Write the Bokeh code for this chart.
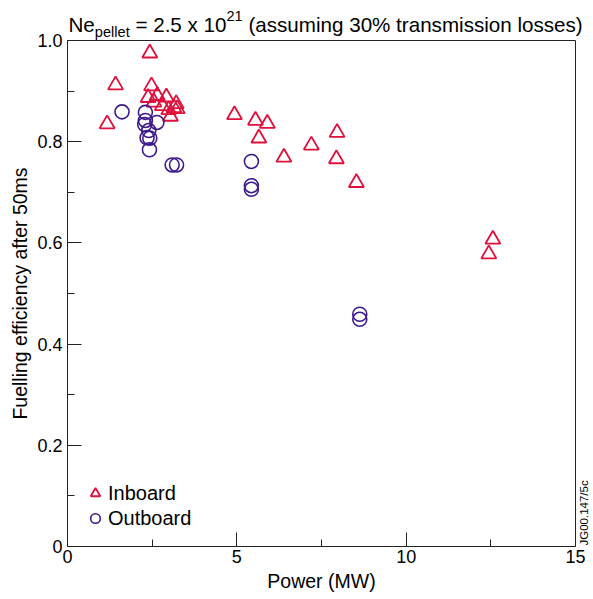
import math
from bokeh.plotting import figure
from bokeh.models import (FixedTicker, Label, Legend, LegendItem, ColumnDataSource,
                          LinearAxis, BoxAnnotation)
from bokeh.embed import file_html
from bokeh.resources import INLINE

# ---- data ----
inboard_x = [1.17, 1.42, 2.43, 2.48, 2.38, 2.65, 2.92, 2.55, 2.80, 3.21, 3.24, 2.99, 3.14, 3.04,
             4.93, 5.55, 5.90, 5.65, 7.96, 7.20, 6.39, 7.94, 8.53, 12.56, 12.44]
inboard_y = [0.835, 0.912, 0.975, 0.910, 0.887, 0.891, 0.888, 0.878, 0.871, 0.875, 0.865, 0.863, 0.867, 0.850,
             0.853, 0.842, 0.836, 0.807, 0.818, 0.793, 0.769, 0.766, 0.719, 0.607, 0.578]

outboard_x = [1.61, 2.30, 2.30, 2.28, 2.40, 2.35, 2.43, 2.42, 2.64, 3.09, 3.22, 5.43, 5.43, 5.43, 8.63, 8.63]
outboard_y = [0.859, 0.858, 0.842, 0.834, 0.822, 0.808, 0.807, 0.784, 0.838, 0.754, 0.754, 0.761, 0.713, 0.706,
              0.459, 0.449]

x_ticks = [0, 5, 10, 15]
x_minor = [2.5, 7.5, 12.5]
y_ticks = [0, 0.2, 0.4, 0.6, 0.8, 1.0]
y_tick_labels = ["0", "0.2", "0.4", "0.6", "0.8", "1.0"]
y_minor = [0.1, 0.3, 0.5, 0.7, 0.9]

series_names = ["Inboard", "Outboard"]
x_label = "Power (MW)"
y_label = "Fuelling efficiency after 50ms"
title_parts = [("Ne", "main"), ("pellet", "sub"), (" = 2.5 x 10", "main"), ("21", "sup"),
               (" (assuming 30% transmission losses)", "main")]
tag_text = "JG00.147/5c"

RED = "#e0103c"
PURPLE = "#3d1a8c"
INK = "#222222"
FONT = "Liberation Sans"

W, H = 593, 599
# plot box (page pixels): left 67, right 575, top 40, bottom 546
BL, BR, BT, BB = 67, 575, 40, 546
XMIN, XMAX, YMIN, YMAX = 0, 15, 0, 1
sx = (BR - BL) / (XMAX - XMIN)
sy = (BB - BT) / (YMAX - YMIN)
x_range = (XMIN - BL / sx, XMAX + (W - BR) / sx)
y_range = (YMIN - (H - BB) / sy, YMAX + BT / sy)

p = figure(width=W, height=H, x_range=x_range, y_range=y_range,
           output_backend="svg", toolbar_location=None,
           x_axis_location=None, y_axis_location=None,
           min_border=0, min_border_left=0, min_border_right=0,
           min_border_top=0, min_border_bottom=0)
p.background_fill_color = "white"
p.border_fill_color = "white"
p.outline_line_color = None
p.xgrid.visible = False
p.ygrid.visible = False

xaxis = LinearAxis(fixed_location=YMIN, bounds=(XMIN, XMAX),
                   ticker=FixedTicker(ticks=x_ticks, minor_ticks=x_minor))
yaxis = LinearAxis(fixed_location=XMIN, bounds=(YMIN, YMAX),
                   ticker=FixedTicker(ticks=y_ticks, minor_ticks=y_minor))
yaxis.major_label_overrides = {t: l for t, l in zip(y_ticks, y_tick_labels)}

for ax in (xaxis, yaxis):
    ax.axis_line_color = INK
    ax.major_tick_line_color = INK
    ax.minor_tick_line_color = INK
    ax.major_tick_in = 14
    ax.major_tick_out = 0
    ax.minor_tick_in = 7
    ax.minor_tick_out = 0
    ax.major_label_text_font = FONT
    ax.major_label_text_font_size = "18px"
    ax.major_label_text_color = "black"
    ax.axis_label_text_font = FONT
    ax.axis_label_text_font_size = "19.5px"
    ax.axis_label_text_font_style = "normal"
    ax.axis_label_text_color = "black"

xaxis.axis_label = x_label
yaxis.axis_label = y_label
xaxis.major_label_standoff = 3
yaxis.major_label_standoff = 5
xaxis.axis_label_standoff = 4
yaxis.axis_label_standoff = 3
p.add_layout(xaxis, "below")
p.add_layout(yaxis, "left")

# plot box
p.add_layout(BoxAnnotation(left=XMIN, right=XMAX, bottom=YMIN, top=YMAX,
                           fill_alpha=0, fill_color=None, line_color=INK, line_width=1,
                           line_alpha=1))

src_in = ColumnDataSource(dict(x=inboard_x, y=inboard_y))
src_out = ColumnDataSource(dict(x=outboard_x, y=outboard_y))
r_in = p.scatter("x", "y", source=src_in, marker="triangle", size=15,
                 fill_color=None, line_color=RED, line_width=1.8)
r_out = p.scatter("x", "y", source=src_out, marker="circle", size=14,
                  fill_color=None, line_color=PURPLE, line_width=1.6)

legend = Legend(items=[LegendItem(label=series_names[0], renderers=[r_in]),
                       LegendItem(label=series_names[1], renderers=[r_out])],
                location=(83, H - 530), glyph_width=24, glyph_height=24, spacing=1,
                padding=0, margin=0, label_standoff=1,
                label_text_font=FONT, label_text_font_size="20px", label_text_color="black",
                border_line_color=None, background_fill_alpha=0)
p.add_layout(legend)

# ---- title made of pieces (sub/superscripts) ----
widths = {'N': 722, 'e': 556, 'p': 556, 'l': 222, 't': 278, ' ': 278, '=': 584, '2': 556, '.': 278,
          '5': 556, 'x': 500, '1': 556, '0': 556, '(': 333, 'a': 556, 's': 500, 'u': 556, 'm': 833,
          'i': 222, 'n': 556, 'g': 556, '3': 556, '%': 889, 'r': 333, 'o': 556, ')': 333}
MAIN, SMALL = 20.6, 14.6
cx = 68.0
base = H - 24
for txt, kind in title_parts:
    size = MAIN if kind == "main" else SMALL
    dy = 0 if kind == "main" else (-7 if kind == "sub" else 9)
    stripped = txt.lstrip(" ")
    cx += (len(txt) - len(stripped)) * widths[' '] * size / 1000.0
    p.add_layout(Label(x=cx, y=base + dy, x_units="screen", y_units="screen", text=stripped,
                       text_font=FONT, text_font_size=f"{size}px", text_color="black",
                       text_baseline="alphabetic", text_align="left"))
    cx += sum(widths.get(c, 556) for c in stripped) * size / 1000.0

p.add_layout(Label(x=583, y=H - 545, x_units="screen", y_units="screen", text=tag_text,
                   angle=math.pi / 2, text_font=FONT, text_font_size="11.5px",
                   text_color="black", text_baseline="middle", text_align="left"))

open("out.html", "w").write(file_html(p, INLINE))
